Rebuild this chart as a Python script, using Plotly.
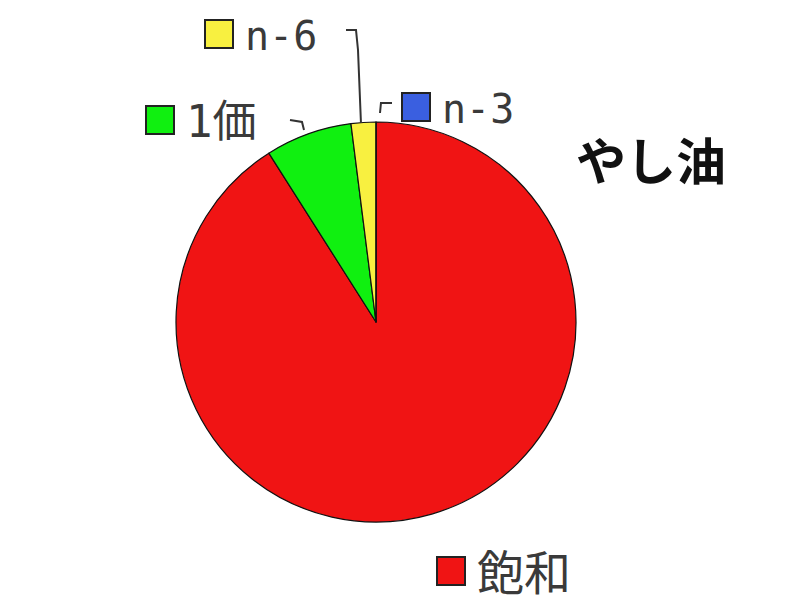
import plotly.graph_objects as go

# やし油 fatty acid composition (%)
labels = ["飽和", "1価", "n-6", "n-3"]
values = [91, 7, 2, 0]
colors = ["#f01414", "#10f010", "#f8f040", "#3a5fe0"]
title_text = "やし油"

W, H = 800, 600
OFF = 8  # page body margin around the figure div
FONT = "DejaVu Sans Mono, Noto Sans CJK JP"


def px(x, y):
    # page pixel position -> paper coordinates
    return (x - OFF) / W, 1 - (y - OFF) / H


fig = go.Figure(go.Pie(
    labels=labels,
    values=values,
    marker=dict(colors=colors, line=dict(color="#111111", width=1.2)),
    sort=False,
    direction="clockwise",
    rotation=0,
    textinfo="none",
    hoverinfo="label+value",
    domain=dict(x=[0.21, 0.71], y=[0.1433, 0.81]),
    showlegend=False,
))

# legend-style labels placed around the pie, as in the original
label_pos = {
    "n-6": (205, 34, 40),
    "1価": (146, 120, 44),
    "n-3": (402, 107, 40),
    "飽和": (437, 571, 47),
}
shapes = []
annotations = []
for name, col in zip(labels, colors):
    x, y, fs = label_pos[name]
    x0, y0 = px(x, y - 14)
    x1, y1 = px(x + 28, y + 14)
    shapes.append(dict(type="rect", xref="paper", yref="paper",
                       x0=x0, y0=y1, x1=x1, y1=y0,
                       fillcolor=col, line=dict(color="#222222", width=2)))
    tx, ty = px(x + 38, y + 2)
    annotations.append(dict(text=name, x=tx, y=ty, xref="paper", yref="paper",
                            xanchor="left", yanchor="middle", showarrow=False,
                            font=dict(family=FONT, size=fs, color="#3a3a3a")))

# leader lines
leaders = [
    [(346, 30), (356, 30), (358, 50), (361, 123)],   # n-6
    [(290, 120), (302, 122), (304, 130)],            # 1価
    [(392, 103), (381, 103), (380, 113)],            # n-3
]
for pts in leaders:
    path = "M " + " L ".join(f"{px(a, b)[0]:.4f},{px(a, b)[1]:.4f}" for a, b in pts)
    shapes.append(dict(type="path", xref="paper", yref="paper", path=path,
                       line=dict(color="#333333", width=2)))

tx, ty = px(574, 158)
annotations.append(dict(text="<b>" + title_text + "</b>", x=tx, y=ty,
                        xref="paper", yref="paper", xanchor="left", yanchor="middle",
                        showarrow=False,
                        font=dict(family="Noto Sans CJK JP", size=50, color="#111111")))

fig.update_layout(
    width=W, height=H,
    margin=dict(l=0, r=0, t=0, b=0),
    paper_bgcolor="white",
    plot_bgcolor="white",
    shapes=shapes,
    annotations=annotations,
)

fig.write_html("out.html")
